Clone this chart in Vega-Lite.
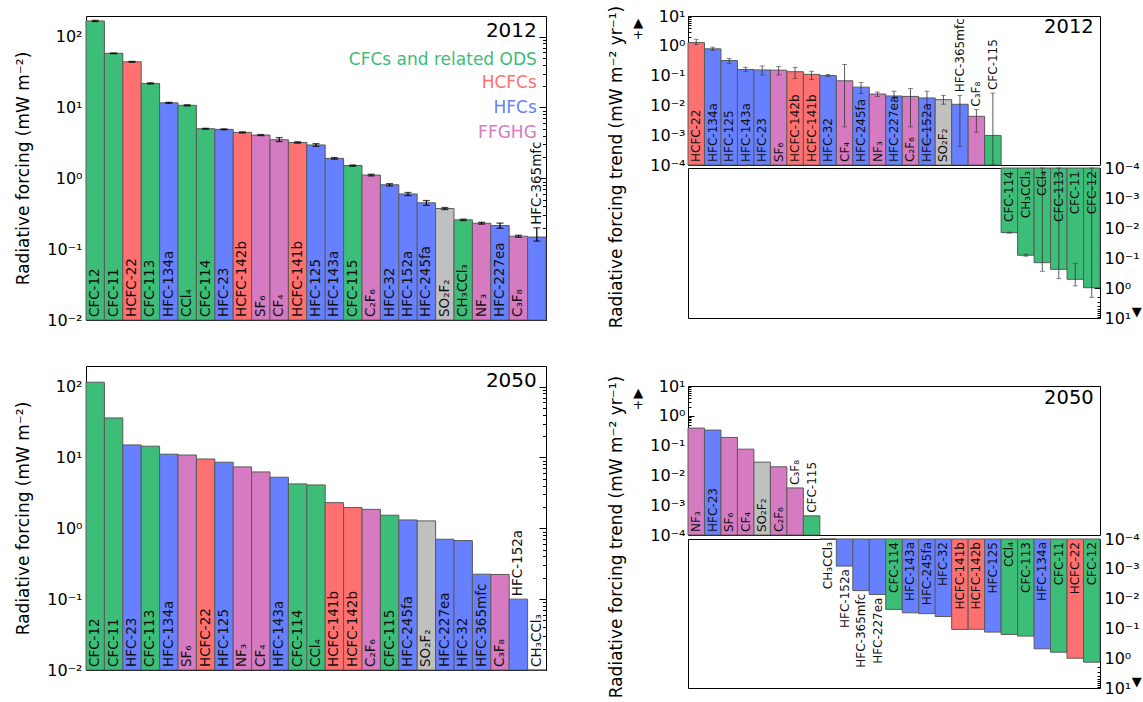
{
"$schema": "https://vega.github.io/schema/vega-lite/v6.json",
"padding": {"left": 14, "top": 5, "right": 0, "bottom": 0},
"config": {
  "font": "DejaVu Sans",
  "view": {"stroke": "black", "strokeWidth": 1},
  "axis": {"domain": false, "grid": false, "labelColor": "black", "tickColor": "black", "titleColor": "black", "titleFontWeight": "normal", "labelFont": "DejaVu Sans", "titleFont": "DejaVu Sans"},
  "text": {"font": "DejaVu Sans", "color": "#111"},
  "title": {"font": "DejaVu Sans", "fontWeight": "normal", "color": "black"}
},
"datasets": {
  "rf2012": [
    {"name": "CFC-12", "grp": "ODS", "rf": 166, "lo": 163, "hi": 169},
    {"name": "CFC-11", "grp": "ODS", "rf": 58, "lo": 57.3, "hi": 58.7},
    {"name": "HCFC-22", "grp": "HCFC", "rf": 44, "lo": 43.5, "hi": 44.5},
    {"name": "CFC-113", "grp": "ODS", "rf": 21.8, "lo": 21.4, "hi": 22.2},
    {"name": "HFC-134a", "grp": "HFC", "rf": 11.6, "lo": 11.4, "hi": 11.8},
    {"name": "CCl₄", "grp": "ODS", "rf": 10.7, "lo": 10.5, "hi": 10.9},
    {"name": "CFC-114", "grp": "ODS", "rf": 5.0, "lo": 4.93, "hi": 5.07},
    {"name": "HFC-23", "grp": "HFC", "rf": 4.9, "lo": 4.82, "hi": 4.98},
    {"name": "HCFC-142b", "grp": "HCFC", "rf": 4.44, "lo": 4.36, "hi": 4.52},
    {"name": "SF₆", "grp": "FFGHG", "rf": 4.07, "lo": 4.0, "hi": 4.14},
    {"name": "CF₄", "grp": "FFGHG", "rf": 3.5, "lo": 3.3, "hi": 3.75},
    {"name": "HCFC-141b", "grp": "HCFC", "rf": 3.2, "lo": 3.13, "hi": 3.27},
    {"name": "HFC-125", "grp": "HFC", "rf": 2.95, "lo": 2.82, "hi": 3.08},
    {"name": "HFC-143a", "grp": "HFC", "rf": 1.91, "lo": 1.86, "hi": 1.96},
    {"name": "CFC-115", "grp": "ODS", "rf": 1.51, "lo": 1.48, "hi": 1.54},
    {"name": "C₂F₆", "grp": "FFGHG", "rf": 1.11, "lo": 1.08, "hi": 1.14},
    {"name": "HFC-32", "grp": "HFC", "rf": 0.81, "lo": 0.78, "hi": 0.84},
    {"name": "HFC-152a", "grp": "HFC", "rf": 0.6, "lo": 0.57, "hi": 0.63},
    {"name": "HFC-245fa", "grp": "HFC", "rf": 0.45, "lo": 0.415, "hi": 0.485},
    {"name": "SO₂F₂", "grp": "other", "rf": 0.374, "lo": 0.362, "hi": 0.386},
    {"name": "CH₃CCl₃", "grp": "ODS", "rf": 0.259, "lo": 0.253, "hi": 0.265},
    {"name": "NF₃", "grp": "FFGHG", "rf": 0.232, "lo": 0.225, "hi": 0.239},
    {"name": "HFC-227ea", "grp": "HFC", "rf": 0.215, "lo": 0.197, "hi": 0.233},
    {"name": "C₃F₈", "grp": "FFGHG", "rf": 0.152, "lo": 0.147, "hi": 0.157},
    {"name": "HFC-365mfc", "grp": "HFC", "rf": 0.148, "lo": 0.13, "hi": 0.2}
  ],
  "rf2050": [
    {"name": "CFC-12", "grp": "ODS", "rf": 115},
    {"name": "CFC-11", "grp": "ODS", "rf": 36.1},
    {"name": "HFC-23", "grp": "HFC", "rf": 15.0},
    {"name": "CFC-113", "grp": "ODS", "rf": 14.4},
    {"name": "HFC-134a", "grp": "HFC", "rf": 11.1},
    {"name": "SF₆", "grp": "FFGHG", "rf": 10.8},
    {"name": "HCFC-22", "grp": "HCFC", "rf": 9.5},
    {"name": "HFC-125", "grp": "HFC", "rf": 8.55},
    {"name": "NF₃", "grp": "FFGHG", "rf": 7.35},
    {"name": "CF₄", "grp": "FFGHG", "rf": 6.24},
    {"name": "HFC-143a", "grp": "HFC", "rf": 5.25},
    {"name": "CFC-114", "grp": "ODS", "rf": 4.23},
    {"name": "CCl₄", "grp": "ODS", "rf": 4.09},
    {"name": "HCFC-141b", "grp": "HCFC", "rf": 2.3},
    {"name": "HCFC-142b", "grp": "HCFC", "rf": 1.96},
    {"name": "C₂F₆", "grp": "FFGHG", "rf": 1.85},
    {"name": "CFC-115", "grp": "ODS", "rf": 1.53},
    {"name": "HFC-245fa", "grp": "HFC", "rf": 1.31},
    {"name": "SO₂F₂", "grp": "other", "rf": 1.27},
    {"name": "HFC-227ea", "grp": "HFC", "rf": 0.7},
    {"name": "HFC-32", "grp": "HFC", "rf": 0.67},
    {"name": "HFC-365mfc", "grp": "HFC", "rf": 0.225},
    {"name": "C₃F₈", "grp": "FFGHG", "rf": 0.223},
    {"name": "HFC-152a", "grp": "HFC", "rf": 0.1},
    {"name": "CH₃CCl₃", "grp": "ODS", "rf": 0.005}
  ],
  "tr2012": [
    {"name": "HCFC-22", "grp": "HCFC", "dir": "+", "rate": 1.28, "lo": 1.1, "hi": 1.66},
    {"name": "HFC-134a", "grp": "HFC", "dir": "+", "rate": 0.79, "lo": 0.7, "hi": 0.9},
    {"name": "HFC-125", "grp": "HFC", "dir": "+", "rate": 0.32, "lo": 0.26, "hi": 0.38},
    {"name": "HFC-143a", "grp": "HFC", "dir": "+", "rate": 0.16, "lo": 0.135, "hi": 0.19},
    {"name": "HFC-23", "grp": "HFC", "dir": "+", "rate": 0.155, "lo": 0.105, "hi": 0.21},
    {"name": "SF₆", "grp": "FFGHG", "rate": 0.152, "dir": "+", "lo": 0.105, "hi": 0.2},
    {"name": "HCFC-142b", "grp": "HCFC", "dir": "+", "rate": 0.135, "lo": 0.08, "hi": 0.19},
    {"name": "HCFC-141b", "grp": "HCFC", "dir": "+", "rate": 0.11, "lo": 0.073, "hi": 0.14},
    {"name": "HFC-32", "grp": "HFC", "dir": "+", "rate": 0.1, "lo": 0.094, "hi": 0.11},
    {"name": "CF₄", "grp": "FFGHG", "dir": "+", "rate": 0.067, "lo": 0.0019, "hi": 0.237},
    {"name": "HFC-245fa", "grp": "HFC", "dir": "+", "rate": 0.041, "lo": 0.0248, "hi": 0.059},
    {"name": "NF₃", "grp": "FFGHG", "dir": "+", "rate": 0.024, "lo": 0.02, "hi": 0.028},
    {"name": "HFC-227ea", "grp": "HFC", "dir": "+", "rate": 0.0207, "lo": 0.014, "hi": 0.03},
    {"name": "C₂F₆", "grp": "FFGHG", "dir": "+", "rate": 0.02, "lo": 0.0019, "hi": 0.037},
    {"name": "HFC-152a", "grp": "HFC", "dir": "+", "rate": 0.0178, "lo": 0.00044, "hi": 0.03},
    {"name": "SO₂F₂", "grp": "other", "dir": "+", "rate": 0.0156, "lo": 0.011, "hi": 0.0218},
    {"name": "HFC-365mfc", "grp": "HFC", "dir": "+", "rate": 0.0109, "lo": 0.00042, "hi": 0.0218},
    {"name": "C₃F₈", "grp": "FFGHG", "dir": "+", "rate": 0.0043, "lo": 0.00126, "hi": 0.0072},
    {"name": "CFC-115", "grp": "ODS", "dir": "+", "rate": 0.00098, "lo": 0.00001, "hi": 0.026},
    {"name": "CFC-114", "grp": "ODS", "dir": "-", "rate": 0.0143, "lo": 0.0138, "hi": 0.0148},
    {"name": "CH₃CCl₃", "grp": "ODS", "dir": "-", "rate": 0.081, "lo": 0.075, "hi": 0.087},
    {"name": "CCl₄", "grp": "ODS", "dir": "-", "rate": 0.143, "lo": 0.00001, "hi": 0.277},
    {"name": "CFC-113", "grp": "ODS", "dir": "-", "rate": 0.239, "lo": 0.00001, "hi": 0.49},
    {"name": "CFC-11", "grp": "ODS", "dir": "-", "rate": 0.513, "lo": 0.15, "hi": 0.85},
    {"name": "CFC-12", "grp": "ODS", "dir": "-", "rate": 0.977, "lo": 0.00001, "hi": 2.04}
  ],
  "tr2050": [
    {"name": "NF₃", "grp": "FFGHG", "dir": "+", "rate": 0.386},
    {"name": "HFC-23", "grp": "HFC", "dir": "+", "rate": 0.331},
    {"name": "SF₆", "grp": "FFGHG", "dir": "+", "rate": 0.188},
    {"name": "CF₄", "grp": "FFGHG", "dir": "+", "rate": 0.076},
    {"name": "SO₂F₂", "grp": "other", "dir": "+", "rate": 0.0278},
    {"name": "C₂F₆", "grp": "FFGHG", "dir": "+", "rate": 0.0194},
    {"name": "C₃F₈", "grp": "FFGHG", "dir": "+", "rate": 0.0038},
    {"name": "CFC-115", "grp": "ODS", "dir": "+", "rate": 0.00044},
    {"name": "CH₃CCl₃", "grp": "ODS", "dir": "-", "rate": 0.00005},
    {"name": "HFC-152a", "grp": "HFC", "dir": "-", "rate": 0.00081},
    {"name": "HFC-365mfc", "grp": "HFC", "dir": "-", "rate": 0.0054},
    {"name": "HFC-227ea", "grp": "HFC", "dir": "-", "rate": 0.0073},
    {"name": "CFC-114", "grp": "ODS", "dir": "-", "rate": 0.023},
    {"name": "HFC-143a", "grp": "HFC", "dir": "-", "rate": 0.03},
    {"name": "HFC-245fa", "grp": "HFC", "dir": "-", "rate": 0.032},
    {"name": "HFC-32", "grp": "HFC", "dir": "-", "rate": 0.04},
    {"name": "HCFC-141b", "grp": "HCFC", "dir": "-", "rate": 0.108},
    {"name": "HCFC-142b", "grp": "HCFC", "dir": "-", "rate": 0.107},
    {"name": "HFC-125", "grp": "HFC", "dir": "-", "rate": 0.133},
    {"name": "CCl₄", "grp": "ODS", "dir": "-", "rate": 0.159},
    {"name": "CFC-113", "grp": "ODS", "dir": "-", "rate": 0.181},
    {"name": "HFC-134a", "grp": "HFC", "dir": "-", "rate": 0.484},
    {"name": "CFC-11", "grp": "ODS", "dir": "-", "rate": 0.628},
    {"name": "HCFC-22", "grp": "HCFC", "dir": "-", "rate": 1.0},
    {"name": "CFC-12", "grp": "ODS", "dir": "-", "rate": 1.36}
  ]
},
"spacing": 60,
"hconcat": [
 {"spacing": 36, "vconcat": [
  {
   "width": 460, "height": 304,
   "data": {"name": "rf2012"},
   "encoding": {"x": {"field": "name", "type": "nominal", "axis": null, "scale": {"domain": ["CFC-12","CFC-11","HCFC-22","CFC-113","HFC-134a","CCl₄","CFC-114","HFC-23","HCFC-142b","SF₆","CF₄","HCFC-141b","HFC-125","HFC-143a","CFC-115","C₂F₆","HFC-32","HFC-152a","HFC-245fa","SO₂F₂","CH₃CCl₃","NF₃","HFC-227ea","C₃F₈","HFC-365mfc"], "paddingInner": 0, "paddingOuter": 0}}},
   "resolve": {"axis": {"y": "independent"}},
   "layer": [
    {"mark": {"type": "bar", "stroke": "#5a5a5a", "strokeWidth": 1},
     "encoding": {
      "y": {"field": "rf", "type": "quantitative", "scale": {"type": "log", "domain": [0.01, 195], "nice": false, "clamp": true},
            "axis": {"orient": "left", "values": [0.01,0.02,0.03,0.04,0.05,0.06,0.07,0.08,0.09,0.1,0.2,0.3,0.4,0.5,0.6,0.7,0.8,0.9,1,2,3,4,5,6,7,8,9,10,20,30,40,50,60,70,80,90,100],
                     "labelExpr": "abs(log(datum.value)/LN10-round(log(datum.value)/LN10))<0.001 ? '10'+['⁻⁴','⁻³','⁻²','⁻¹','⁰','¹','²'][round(log(datum.value)/LN10)+4] : ''",
                     "labelFontSize": 16, "labelOverlap": false, "labelFlush": false, "labelPadding": 11,
                     "tickSize": {"condition": {"test": "abs(log(datum.value)/LN10-round(log(datum.value)/LN10))<0.001", "value": -7}, "value": -3.5},
                     "title": "Radiative forcing (mW m⁻²)", "titleFontSize": 17, "titlePadding": 14}},
      "y2": {"datum": 0.01},
      "color": {"field": "grp", "type": "nominal", "legend": null, "scale": {"domain": ["ODS","HCFC","HFC","FFGHG","other"], "range": ["#3cbd78","#ff7070","#6680ff","#d67bc1","#c0c0c0"]}}
     }},
    {"mark": {"type": "rule", "color": "black", "strokeWidth": 1.2},
     "encoding": {"y": {"field": "lo", "type": "quantitative",
        "axis": {"orient": "right", "labels": false, "title": null, "values": [0.01,0.02,0.03,0.04,0.05,0.06,0.07,0.08,0.09,0.1,0.2,0.3,0.4,0.5,0.6,0.7,0.8,0.9,1,2,3,4,5,6,7,8,9,10,20,30,40,50,60,70,80,90,100],
                 "tickSize": {"condition": {"test": "abs(log(datum.value)/LN10-round(log(datum.value)/LN10))<0.001", "value": -7}, "value": -3.5}}},
      "y2": {"field": "hi"}}},
    {"mark": {"type": "tick", "orient": "horizontal", "size": 7, "thickness": 1.3, "color": "black"},
     "encoding": {"y": {"field": "lo", "type": "quantitative", "axis": null}}},
    {"mark": {"type": "tick", "orient": "horizontal", "size": 7, "thickness": 1.3, "color": "black"},
     "encoding": {"y": {"field": "hi", "type": "quantitative", "axis": null}}},
    {"transform": [{"filter": "datum.name != 'HFC-365mfc'"}],
     "mark": {"type": "text", "angle": 270, "align": "left", "baseline": "middle", "dx": 3, "fontSize": 13.5},
     "encoding": {"y": {"datum": 0.01, "axis": null}, "text": {"field": "name"}}},
    {"transform": [{"filter": "datum.name == 'HFC-365mfc'"}],
     "mark": {"type": "text", "angle": 270, "align": "left", "baseline": "middle", "dx": 3, "fontSize": 13.5},
     "encoding": {"y": {"field": "hi", "type": "quantitative", "axis": null}, "text": {"field": "name"}}},
    {"data": {"values": [{}]}, "mark": {"type": "text", "text": "2012", "align": "right", "baseline": "middle", "fontSize": 20, "color": "black"},
     "encoding": {"x": {"datum": "HFC-365mfc"}, "y": {"datum": 119, "axis": null}}},
    {"data": {"values": [{}]}, "mark": {"type": "text", "text": "CFCs and related ODS", "align": "right", "baseline": "middle", "fontSize": 17, "color": "#3cbd78"},
     "encoding": {"x": {"datum": "HFC-365mfc"}, "y": {"datum": 47, "axis": null}}},
    {"data": {"values": [{}]}, "mark": {"type": "text", "text": "HCFCs", "align": "right", "baseline": "middle", "fontSize": 17, "color": "#ff7070"},
     "encoding": {"x": {"datum": "HFC-365mfc"}, "y": {"datum": 21.8, "axis": null}}},
    {"data": {"values": [{}]}, "mark": {"type": "text", "text": "HFCs", "align": "right", "baseline": "middle", "fontSize": 17, "color": "#6680ff"},
     "encoding": {"x": {"datum": "HFC-365mfc"}, "y": {"datum": 9.7, "axis": null}}},
    {"data": {"values": [{}]}, "mark": {"type": "text", "text": "FFGHG", "align": "right", "baseline": "middle", "fontSize": 17, "color": "#d67bc1"},
     "encoding": {"x": {"datum": "HFC-365mfc"}, "y": {"datum": 4.35, "axis": null}}}
   ]
  },
  {
   "width": 460, "height": 304,
   "data": {"name": "rf2050"},
   "encoding": {"x": {"field": "name", "type": "nominal", "axis": null, "scale": {"domain": ["CFC-12","CFC-11","HFC-23","CFC-113","HFC-134a","SF₆","HCFC-22","HFC-125","NF₃","CF₄","HFC-143a","CFC-114","CCl₄","HCFC-141b","HCFC-142b","C₂F₆","CFC-115","HFC-245fa","SO₂F₂","HFC-227ea","HFC-32","HFC-365mfc","C₃F₈","HFC-152a","CH₃CCl₃"], "paddingInner": 0, "paddingOuter": 0}}},
   "resolve": {"axis": {"y": "independent"}},
   "layer": [
    {"mark": {"type": "bar", "stroke": "#5a5a5a", "strokeWidth": 1},
     "encoding": {
      "y": {"field": "rf", "type": "quantitative", "scale": {"type": "log", "domain": [0.01, 195], "nice": false, "clamp": true},
            "axis": {"orient": "left", "values": [0.01,0.02,0.03,0.04,0.05,0.06,0.07,0.08,0.09,0.1,0.2,0.3,0.4,0.5,0.6,0.7,0.8,0.9,1,2,3,4,5,6,7,8,9,10,20,30,40,50,60,70,80,90,100],
                     "labelExpr": "abs(log(datum.value)/LN10-round(log(datum.value)/LN10))<0.001 ? '10'+['⁻⁴','⁻³','⁻²','⁻¹','⁰','¹','²'][round(log(datum.value)/LN10)+4] : ''",
                     "labelFontSize": 16, "labelOverlap": false, "labelFlush": false, "labelPadding": 11,
                     "tickSize": {"condition": {"test": "abs(log(datum.value)/LN10-round(log(datum.value)/LN10))<0.001", "value": -7}, "value": -3.5},
                     "title": "Radiative forcing (mW m⁻²)", "titleFontSize": 17, "titlePadding": 14}},
      "y2": {"datum": 0.01},
      "color": {"field": "grp", "type": "nominal", "legend": null, "scale": {"domain": ["ODS","HCFC","HFC","FFGHG","other"], "range": ["#3cbd78","#ff7070","#6680ff","#d67bc1","#c0c0c0"]}}
     }},
    {"transform": [{"filter": "datum.name == 'HFC-152a'"}],
     "mark": {"type": "text", "angle": 270, "align": "left", "baseline": "middle", "dx": 3, "fontSize": 13.5},
     "encoding": {"y": {"field": "rf", "type": "quantitative",
        "axis": {"orient": "right", "labels": false, "title": null, "values": [0.01,0.02,0.03,0.04,0.05,0.06,0.07,0.08,0.09,0.1,0.2,0.3,0.4,0.5,0.6,0.7,0.8,0.9,1,2,3,4,5,6,7,8,9,10,20,30,40,50,60,70,80,90,100],
                 "tickSize": {"condition": {"test": "abs(log(datum.value)/LN10-round(log(datum.value)/LN10))<0.001", "value": -7}, "value": -3.5}}},
      "text": {"field": "name"}}},
    {"transform": [{"filter": "datum.name != 'HFC-152a'"}],
     "mark": {"type": "text", "angle": 270, "align": "left", "baseline": "middle", "dx": 3, "fontSize": 13.5},
     "encoding": {"y": {"datum": 0.01, "axis": null}, "text": {"field": "name"}}},
    {"data": {"values": [{}]}, "mark": {"type": "text", "text": "2050", "align": "right", "baseline": "middle", "fontSize": 20, "color": "black"},
     "encoding": {"x": {"datum": "CH₃CCl₃"}, "y": {"datum": 121, "axis": null}}}
   ]
  }
 ]},
 {"spacing": 46, "vconcat": [
  {
   "title": {"text": "Radiative forcing trend (mW m⁻² yr⁻¹)", "orient": "left", "anchor": "middle", "fontSize": 17, "offset": 6},
   "spacing": 3,
   "bounds": "flush",
   "vconcat": [
    {
     "width": 412, "height": 149,
     "data": {"name": "tr2012"},
     "transform": [{"filter": "datum.dir == '+'"}],
     "encoding": {"x": {"field": "name", "type": "nominal", "axis": null, "scale": {"domain": ["HCFC-22","HFC-134a","HFC-125","HFC-143a","HFC-23","SF₆","HCFC-142b","HCFC-141b","HFC-32","CF₄","HFC-245fa","NF₃","HFC-227ea","C₂F₆","HFC-152a","SO₂F₂","HFC-365mfc","C₃F₈","CFC-115","CFC-114","CH₃CCl₃","CCl₄","CFC-113","CFC-11","CFC-12"], "paddingInner": 0, "paddingOuter": 0}}},
     "layer": [
      {"mark": {"type": "bar", "stroke": "#5a5a5a", "strokeWidth": 1},
       "encoding": {
        "y": {"field": "rate", "type": "quantitative", "scale": {"type": "log", "domain": [0.0001, 10], "nice": false, "clamp": true},
              "axis": {"orient": "left", "values": [0.0001,0.0002,0.0003,0.0004,0.0005,0.0006,0.0007,0.0008,0.0009,0.001,0.002,0.003,0.004,0.005,0.006,0.007,0.008,0.009,0.01,0.02,0.03,0.04,0.05,0.06,0.07,0.08,0.09,0.1,0.2,0.3,0.4,0.5,0.6,0.7,0.8,0.9,1,2,3,4,5,6,7,8,9,10],
                       "labelExpr": "abs(log(datum.value)/LN10-round(log(datum.value)/LN10))<0.001 ? '10'+['⁻⁴','⁻³','⁻²','⁻¹','⁰','¹','²'][round(log(datum.value)/LN10)+4] : ''",
                       "labelFontSize": 16, "labelOverlap": false, "labelFlush": false, "labelPadding": 9,
                       "tickSize": {"condition": {"test": "abs(log(datum.value)/LN10-round(log(datum.value)/LN10))<0.001", "value": -6}, "value": -3},
                       "title": ["▲", "+"], "titleAngle": 0, "titleAnchor": "end", "titleBaseline": "top", "titleAlign": "center", "titleFontSize": 13, "titlePadding": 0, "titleLineHeight": 12}},
        "y2": {"datum": 0.0001},
        "color": {"field": "grp", "type": "nominal", "legend": null, "scale": {"domain": ["ODS","HCFC","HFC","FFGHG","other"], "range": ["#3cbd78","#ff7070","#6680ff","#d67bc1","#c0c0c0"]}}
       }},
      {"mark": {"type": "rule", "color": "#333", "strokeWidth": 0.8},
       "encoding": {"y": {"field": "lo", "type": "quantitative"}, "y2": {"field": "hi"}}},
      {"mark": {"type": "tick", "orient": "horizontal", "size": 5, "thickness": 0.8, "color": "#333"},
       "encoding": {"y": {"field": "lo", "type": "quantitative"}}},
      {"mark": {"type": "tick", "orient": "horizontal", "size": 5, "thickness": 0.8, "color": "#333"},
       "encoding": {"y": {"field": "hi", "type": "quantitative"}}},
      {"transform": [{"filter": "indexof(['HFC-365mfc','C₃F₈','CFC-115'], datum.name) < 0"}],
       "mark": {"type": "text", "angle": 270, "align": "left", "baseline": "middle", "dx": 3, "fontSize": 12},
       "encoding": {"y": {"datum": 0.0001}, "text": {"field": "name"}}},
      {"transform": [{"filter": "indexof(['HFC-365mfc','C₃F₈','CFC-115'], datum.name) >= 0"}],
       "mark": {"type": "text", "angle": 270, "align": "left", "baseline": "middle", "dx": 3, "fontSize": 12},
       "encoding": {"y": {"field": "hi", "type": "quantitative"}, "text": {"field": "name"}}},
      {"data": {"values": [{}]}, "mark": {"type": "text", "text": "2012", "align": "right", "baseline": "middle", "fontSize": 19.5, "dx": 2, "color": "black"},
       "encoding": {"x": {"datum": "CFC-12"}, "y": {"datum": 4.2}}}
     ]
    },
    {
     "width": 412, "height": 150,
     "data": {"name": "tr2012"},
     "transform": [{"filter": "datum.dir == '-'"}],
     "encoding": {"x": {"field": "name", "type": "nominal", "axis": null, "scale": {"domain": ["HCFC-22","HFC-134a","HFC-125","HFC-143a","HFC-23","SF₆","HCFC-142b","HCFC-141b","HFC-32","CF₄","HFC-245fa","NF₃","HFC-227ea","C₂F₆","HFC-152a","SO₂F₂","HFC-365mfc","C₃F₈","CFC-115","CFC-114","CH₃CCl₃","CCl₄","CFC-113","CFC-11","CFC-12"], "paddingInner": 0, "paddingOuter": 0}}},
     "layer": [
      {"mark": {"type": "bar", "stroke": "#5a5a5a", "strokeWidth": 1},
       "encoding": {
        "y": {"field": "rate", "type": "quantitative", "scale": {"type": "log", "domain": [0.0001, 10], "nice": false, "reverse": true, "clamp": true},
              "axis": {"orient": "right", "values": [0.0001,0.0002,0.0003,0.0004,0.0005,0.0006,0.0007,0.0008,0.0009,0.001,0.002,0.003,0.004,0.005,0.006,0.007,0.008,0.009,0.01,0.02,0.03,0.04,0.05,0.06,0.07,0.08,0.09,0.1,0.2,0.3,0.4,0.5,0.6,0.7,0.8,0.9,1,2,3,4,5,6,7,8,9,10],
                       "labelExpr": "abs(log(datum.value)/LN10-round(log(datum.value)/LN10))<0.001 ? '10'+['⁻⁴','⁻³','⁻²','⁻¹','⁰','¹','²'][round(log(datum.value)/LN10)+4] : ''",
                       "labelFontSize": 16, "labelOverlap": false, "labelFlush": false, "labelPadding": 10,
                       "tickSize": {"condition": {"test": "abs(log(datum.value)/LN10-round(log(datum.value)/LN10))<0.001", "value": -6}, "value": -3},
                       "title": "▼", "titleAngle": 0, "titleAnchor": "end", "titleBaseline": "bottom", "titleFontSize": 13, "titlePadding": 2}},
        "y2": {"datum": 0.0001},
        "color": {"field": "grp", "type": "nominal", "legend": null, "scale": {"domain": ["ODS","HCFC","HFC","FFGHG","other"], "range": ["#3cbd78","#ff7070","#6680ff","#d67bc1","#c0c0c0"]}}
       }},
      {"mark": {"type": "rule", "color": "#333", "strokeWidth": 0.8},
       "encoding": {"y": {"field": "lo", "type": "quantitative"}, "y2": {"field": "hi"}}},
      {"mark": {"type": "tick", "orient": "horizontal", "size": 5, "thickness": 0.8, "color": "#333"},
       "encoding": {"y": {"field": "lo", "type": "quantitative"}}},
      {"mark": {"type": "tick", "orient": "horizontal", "size": 5, "thickness": 0.8, "color": "#333"},
       "encoding": {"y": {"field": "hi", "type": "quantitative"}}},
      {"mark": {"type": "text", "angle": 270, "align": "right", "baseline": "middle", "dx": -3, "fontSize": 12},
       "encoding": {"y": {"datum": 0.0001}, "text": {"field": "name"}}}
     ]
    }
   ]
  },
  {
   "title": {"text": "Radiative forcing trend (mW m⁻² yr⁻¹)", "orient": "left", "anchor": "middle", "fontSize": 17, "offset": 6},
   "spacing": 4,
   "bounds": "flush",
   "vconcat": [
    {
     "width": 412, "height": 149,
     "data": {"name": "tr2050"},
     "transform": [{"filter": "datum.dir == '+'"}],
     "encoding": {"x": {"field": "name", "type": "nominal", "axis": null, "scale": {"domain": ["NF₃","HFC-23","SF₆","CF₄","SO₂F₂","C₂F₆","C₃F₈","CFC-115","CH₃CCl₃","HFC-152a","HFC-365mfc","HFC-227ea","CFC-114","HFC-143a","HFC-245fa","HFC-32","HCFC-141b","HCFC-142b","HFC-125","CCl₄","CFC-113","HFC-134a","CFC-11","HCFC-22","CFC-12"], "paddingInner": 0, "paddingOuter": 0}}},
     "layer": [
      {"mark": {"type": "bar", "stroke": "#5a5a5a", "strokeWidth": 1},
       "encoding": {
        "y": {"field": "rate", "type": "quantitative", "scale": {"type": "log", "domain": [0.0001, 10], "nice": false, "clamp": true},
              "axis": {"orient": "left", "values": [0.0001,0.0002,0.0003,0.0004,0.0005,0.0006,0.0007,0.0008,0.0009,0.001,0.002,0.003,0.004,0.005,0.006,0.007,0.008,0.009,0.01,0.02,0.03,0.04,0.05,0.06,0.07,0.08,0.09,0.1,0.2,0.3,0.4,0.5,0.6,0.7,0.8,0.9,1,2,3,4,5,6,7,8,9,10],
                       "labelExpr": "abs(log(datum.value)/LN10-round(log(datum.value)/LN10))<0.001 ? '10'+['⁻⁴','⁻³','⁻²','⁻¹','⁰','¹','²'][round(log(datum.value)/LN10)+4] : ''",
                       "labelFontSize": 16, "labelOverlap": false, "labelFlush": false, "labelPadding": 9,
                       "tickSize": {"condition": {"test": "abs(log(datum.value)/LN10-round(log(datum.value)/LN10))<0.001", "value": -6}, "value": -3},
                       "title": ["▲", "+"], "titleAngle": 0, "titleAnchor": "end", "titleBaseline": "top", "titleAlign": "center", "titleFontSize": 13, "titlePadding": 0, "titleLineHeight": 12}},
        "y2": {"datum": 0.0001},
        "color": {"field": "grp", "type": "nominal", "legend": null, "scale": {"domain": ["ODS","HCFC","HFC","FFGHG","other"], "range": ["#3cbd78","#ff7070","#6680ff","#d67bc1","#c0c0c0"]}}
       }},
      {"transform": [{"filter": "indexof(['C₃F₈','CFC-115'], datum.name) < 0"}],
       "mark": {"type": "text", "angle": 270, "align": "left", "baseline": "middle", "dx": 3, "fontSize": 12},
       "encoding": {"y": {"datum": 0.0001}, "text": {"field": "name"}}},
      {"transform": [{"filter": "indexof(['C₃F₈','CFC-115'], datum.name) >= 0"}],
       "mark": {"type": "text", "angle": 270, "align": "left", "baseline": "middle", "dx": 3, "fontSize": 12},
       "encoding": {"y": {"field": "rate", "type": "quantitative"}, "text": {"field": "name"}}},
      {"data": {"values": [{}]}, "mark": {"type": "text", "text": "2050", "align": "right", "baseline": "middle", "fontSize": 19.5, "dx": 2, "color": "black"},
       "encoding": {"x": {"datum": "CFC-12"}, "y": {"datum": 4.0}}}
     ]
    },
    {
     "width": 412, "height": 149,
     "data": {"name": "tr2050"},
     "transform": [{"filter": "datum.dir == '-'"}],
     "encoding": {"x": {"field": "name", "type": "nominal", "axis": null, "scale": {"domain": ["NF₃","HFC-23","SF₆","CF₄","SO₂F₂","C₂F₆","C₃F₈","CFC-115","CH₃CCl₃","HFC-152a","HFC-365mfc","HFC-227ea","CFC-114","HFC-143a","HFC-245fa","HFC-32","HCFC-141b","HCFC-142b","HFC-125","CCl₄","CFC-113","HFC-134a","CFC-11","HCFC-22","CFC-12"], "paddingInner": 0, "paddingOuter": 0}}},
     "layer": [
      {"mark": {"type": "bar", "stroke": "#5a5a5a", "strokeWidth": 1},
       "encoding": {
        "y": {"field": "rate", "type": "quantitative", "scale": {"type": "log", "domain": [0.0001, 10], "nice": false, "reverse": true, "clamp": true},
              "axis": {"orient": "right", "values": [0.0001,0.0002,0.0003,0.0004,0.0005,0.0006,0.0007,0.0008,0.0009,0.001,0.002,0.003,0.004,0.005,0.006,0.007,0.008,0.009,0.01,0.02,0.03,0.04,0.05,0.06,0.07,0.08,0.09,0.1,0.2,0.3,0.4,0.5,0.6,0.7,0.8,0.9,1,2,3,4,5,6,7,8,9,10],
                       "labelExpr": "abs(log(datum.value)/LN10-round(log(datum.value)/LN10))<0.001 ? '10'+['⁻⁴','⁻³','⁻²','⁻¹','⁰','¹','²'][round(log(datum.value)/LN10)+4] : ''",
                       "labelFontSize": 16, "labelOverlap": false, "labelFlush": false, "labelPadding": 10,
                       "tickSize": {"condition": {"test": "abs(log(datum.value)/LN10-round(log(datum.value)/LN10))<0.001", "value": -6}, "value": -3},
                       "title": "▼", "titleAngle": 0, "titleAnchor": "end", "titleBaseline": "bottom", "titleFontSize": 13, "titlePadding": 2}},
        "y2": {"datum": 0.0001},
        "color": {"field": "grp", "type": "nominal", "legend": null, "scale": {"domain": ["ODS","HCFC","HFC","FFGHG","other"], "range": ["#3cbd78","#ff7070","#6680ff","#d67bc1","#c0c0c0"]}}
       }},
      {"transform": [{"filter": "indexof(['CH₃CCl₃','HFC-152a','HFC-365mfc','HFC-227ea'], datum.name) < 0"}],
       "mark": {"type": "text", "angle": 270, "align": "right", "baseline": "middle", "dx": -3, "fontSize": 12},
       "encoding": {"y": {"datum": 0.0001}, "text": {"field": "name"}}},
      {"transform": [{"filter": "indexof(['CH₃CCl₃','HFC-152a','HFC-365mfc','HFC-227ea'], datum.name) >= 0"}],
       "mark": {"type": "text", "angle": 270, "align": "right", "baseline": "middle", "dx": -3, "fontSize": 12},
       "encoding": {"y": {"field": "rate", "type": "quantitative"}, "text": {"field": "name"}}}
     ]
    }
   ]
  }
 ]}
]
}
